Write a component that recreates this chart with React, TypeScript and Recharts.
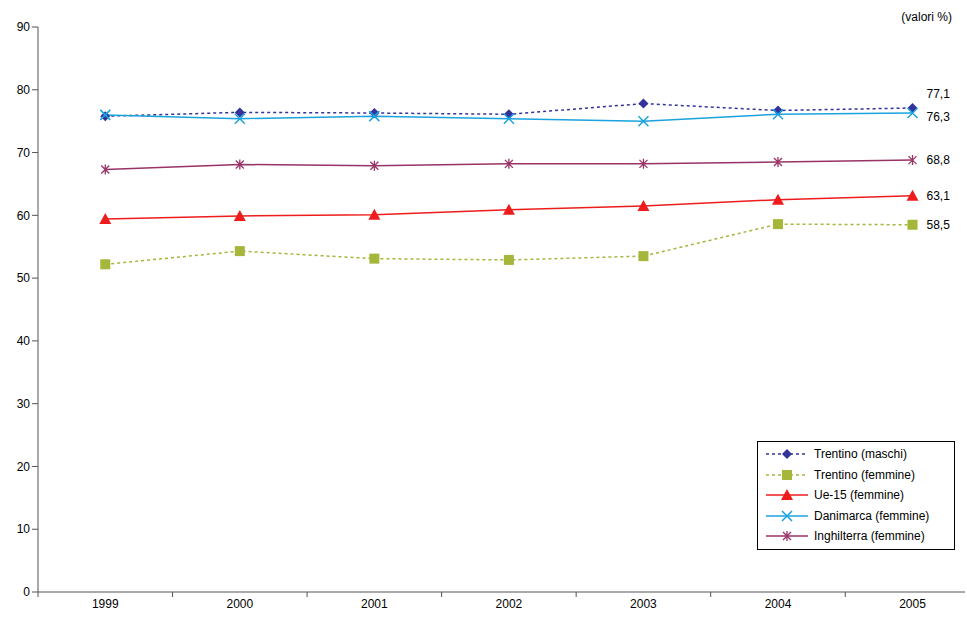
import { LineChart, Line, XAxis, YAxis } from 'recharts';

const years = [1999, 2000, 2001, 2002, 2003, 2004, 2005];
const trentinoMaschi = [75.8, 76.4, 76.3, 76.1, 77.8, 76.7, 77.1];
const trentinoFemmine = [52.2, 54.3, 53.1, 52.9, 53.5, 58.6, 58.5];
const ue15 = [59.4, 59.9, 60.1, 60.9, 61.5, 62.5, 63.1];
const danimarca = [76.0, 75.4, 75.8, 75.4, 75.0, 76.1, 76.3];
const inghilterra = [67.3, 68.1, 67.9, 68.2, 68.2, 68.5, 68.8];
const yTicks = [0, 10, 20, 30, 40, 50, 60, 70, 80, 90];

const data = years.map((y, i) => ({
  year: y,
  maschi: trentinoMaschi[i],
  femmine: trentinoFemmine[i],
  ue: ue15[i],
  dan: danimarca[i],
  ing: inghilterra[i],
}));

const W = 967;
const H = 618;
const M = { top: 27, right: 2, left: 38 };
const X_DOMAIN: [number, number] = [1998.5, 2005.39];
const HALF = (W - M.left - M.right) / (X_DOMAIN[1] - X_DOMAIN[0]) / 2;

type Shape = 'diamond' | 'square' | 'triangle' | 'cross' | 'star';

function Marker({ cx, cy, shape, color }: { cx: number; cy: number; shape: Shape; color: string }) {
  if (shape === 'diamond')
    return <polygon points={`${cx},${cy - 5} ${cx + 5},${cy} ${cx},${cy + 5} ${cx - 5},${cy}`} fill={color} />;
  if (shape === 'square') return <rect x={cx - 5} y={cy - 5} width={10} height={10} fill={color} />;
  if (shape === 'triangle')
    return <polygon points={`${cx},${cy - 6} ${cx + 6},${cy + 5} ${cx - 6},${cy + 5}`} fill={color} />;
  if (shape === 'cross')
    return (
      <path d={`M${cx - 5},${cy - 5}L${cx + 5},${cy + 5}M${cx - 5},${cy + 5}L${cx + 5},${cy - 5}`} stroke={color} strokeWidth={1.5} />
    );
  return (
    <path
      d={`M${cx - 4},${cy - 4}L${cx + 4},${cy + 4}M${cx - 4},${cy + 4}L${cx + 4},${cy - 4}M${cx},${cy - 5}L${cx},${cy + 5}`}
      stroke={color}
      strokeWidth={1.3}
    />
  );
}

const series: { key: string; name: string; color: string; shape: Shape; dash?: string; labelDy?: number }[] = [
  { key: 'maschi', name: 'Trentino (maschi)', color: '#333399', shape: 'diamond', dash: '3 3', labelDy: -10 },
  { key: 'femmine', name: 'Trentino (femmine)', color: '#A6B63A', shape: 'square', dash: '3 3', labelDy: 4 },
  { key: 'ue', name: 'Ue-15 (femmine)', color: '#EE1C1C', shape: 'triangle', labelDy: 4 },
  { key: 'dan', name: 'Danimarca (femmine)', color: '#1AA3DE', shape: 'cross', labelDy: 8 },
  { key: 'ing', name: 'Inghilterra (femmine)', color: '#993366', shape: 'star', labelDy: 4 },
];

function LegendBox() {
  return (
    <div
      style={{
        position: 'absolute',
        left: 757,
        top: 441,
        width: 184,
        border: '1px solid #000',
        background: '#fff',
        padding: '2px 6px',
        fontSize: 12,
        lineHeight: '20.5px',
      }}
    >
      {series.map((s) => (
        <div key={s.key} style={{ display: 'flex', alignItems: 'center' }}>
          <svg width={46} height={12}>
            <line x1={2} y1={6} x2={44} y2={6} stroke={s.color} strokeWidth={1.5} strokeDasharray={s.dash} />
            <Marker cx={23} cy={6} shape={s.shape} color={s.color} />
          </svg>
          <span style={{ marginLeft: 4 }}>{s.name}</span>
        </div>
      ))}
    </div>
  );
}

function YearTick(p: any) {
  const top = p.y - 8;
  return (
    <g>
      <line x1={p.x - HALF} x2={p.x - HALF} y1={top} y2={top + 5} stroke="#555" />
      <text x={p.x} y={p.y + 8} textAnchor="middle" fontSize={12} fill="#000">
        {p.payload.value}
      </text>
    </g>
  );
}

export default function App() {
  return (
    <div style={{ position: 'absolute', left: 0, top: 0, width: W, height: H, fontFamily: '"Liberation Sans", Arial, sans-serif' }}>
      <LineChart width={W} height={H} data={data} margin={{ top: M.top, right: M.right, bottom: 0, left: 0 }}>
        <XAxis
          dataKey="year"
          type="number"
          domain={X_DOMAIN}
          allowDataOverflow
          ticks={years}
          tickLine={false}
          axisLine={{ stroke: '#555' }}
          tick={<YearTick />}
          height={26}
        />
        <YAxis
          domain={[0, 90]}
          ticks={yTicks}
          width={M.left}
          axisLine={{ stroke: '#555' }}
          tickLine={{ stroke: '#555' }}
          tick={{ fontSize: 12, fill: '#000' }}
        />
        {series.map((s) => (
          <Line
            key={s.key}
            dataKey={s.key}
            name={s.name}
            stroke={s.color}
            strokeWidth={1.5}
            strokeDasharray={s.dash}
            isAnimationActive={false}
            dot={(p: any) => <Marker key={p.index} cx={p.cx} cy={p.cy} shape={s.shape} color={s.color} />}
            label={(p: any) =>
              p.index === years.length - 1 ? (
                <text key={p.index} x={p.x + 14} y={p.y + (s.labelDy ?? 4)} fontSize={12} fill="#000">
                  {String(p.value).replace('.', ',')}
                </text>
              ) : (
                <g key={p.index} />
              )
            }
          />
        ))}
        <text x={952} y={21} fontSize={12} textAnchor="end" fill="#000">
          (valori %)
        </text>
      </LineChart>
      <LegendBox />
    </div>
  );
}
